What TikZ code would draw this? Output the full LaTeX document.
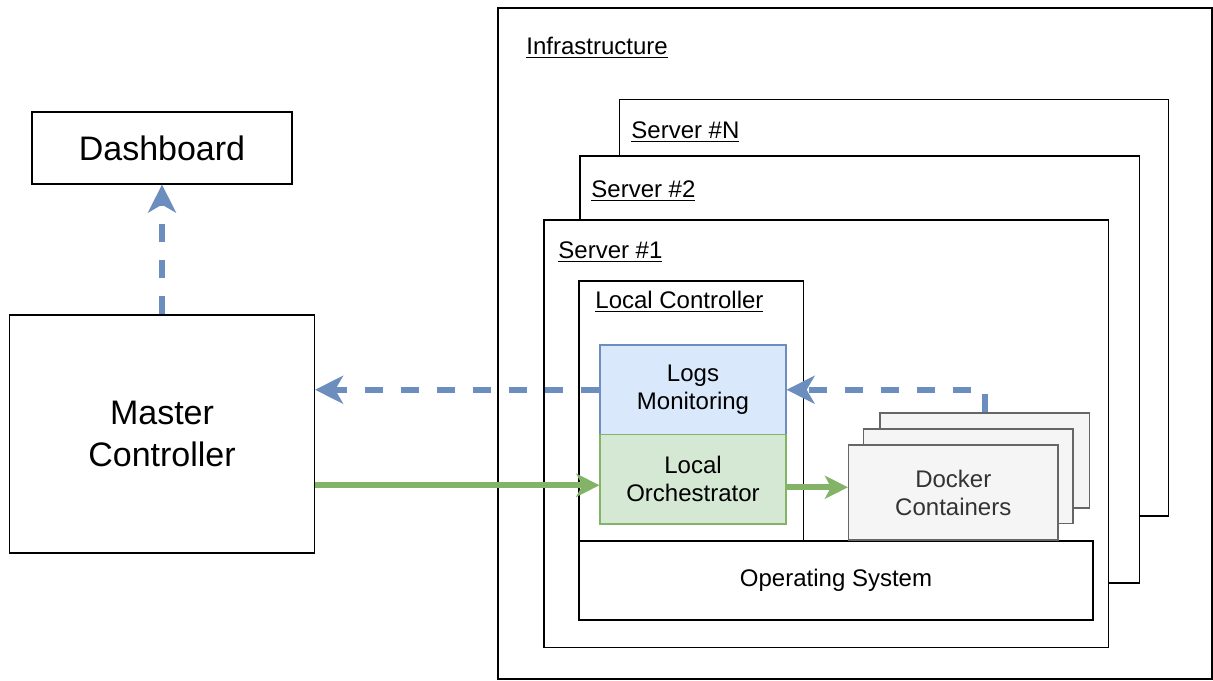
\documentclass[tikz,border=0pt]{standalone}
\usepackage{fontspec}
\setmainfont{Liberation Sans}
\usetikzlibrary{arrows.meta,positioning}
\definecolor{LogBlue}{HTML}{DAE8FC}
\definecolor{LogEdge}{HTML}{6C8EBF}
\definecolor{OrchGreen}{HTML}{D5E8D4}
\definecolor{OrchEdge}{HTML}{82B366}
\definecolor{CtrFill}{HTML}{F5F5F5}
\definecolor{CtrEdge}{HTML}{666666}
\definecolor{CtrText}{HTML}{333333}
\newcommand{\smallfont}{\fontsize{12}{14}\selectfont}
\newcommand{\bigfont}{\fontsize{17}{21}\selectfont}
\tikzset{
  spanbox/.style n args={4}{at={({(#1+#3)/2},{(#2+#4)/2})},
    minimum width={(#3-#1)*0.5pt},minimum height={(#4-#2)*0.5pt}},
  panel/.style={draw=black,line width=0.6pt,fill=white,inner sep=0pt,font=\smallfont,align=center},
  bigpanel/.style={panel,font=\bigfont},
  title/.style={anchor=west,inner sep=0pt,font=\smallfont},
  logbox/.style={panel,draw=LogEdge,fill=LogBlue},
  orchbox/.style={panel,draw=OrchEdge,fill=OrchGreen},
  ctrbox/.style={panel,draw=CtrEdge,fill=CtrFill,text=CtrText},
  bluearrow/.style={draw=LogEdge,line width=3pt,dash pattern=on 9pt off 9pt,
    -{Stealth[length=14pt,width=14pt,inset=4pt]}},
  greenarrow/.style={draw=OrchEdge,line width=3pt,
    -{Stealth[length=11.5pt,width=11.5pt,inset=3pt]}}
}

\begin{document}
\begin{tikzpicture}[x=0.5pt,y=-0.5pt]
  \useasboundingbox (0,0) rectangle (1213,680);

  \node[panel,spanbox={498}{8}{1212}{679}] (infra) {};
  \node[title] (infralbl) at (526,48) {\underline{Infrastructure}};

  \node[panel,spanbox={619.5}{99.5}{1168.5}{516}] (servern) {};
  \node[title] (servernlbl) at (631,132) {\underline{Server \#N}};
  \node[panel,spanbox={580}{156}{1139.5}{583}] (server2) {};
  \node[title] (server2lbl) at (591,191) {\underline{Server \#2}};
  \node[panel,spanbox={544}{220}{1108.5}{647.5}] (server1) {};
  \node[title] (server1lbl) at (558,252) {\underline{Server \#1}};

  \node[panel,spanbox={579}{281}{803.5}{542}] (localctl) {};
  \node[title] (localctllbl) at (595,302) {\underline{Local Controller}};
  \node[panel,spanbox={579}{541}{1093}{620}] (os) {Operating System};

  \node[logbox,spanbox={600}{345}{786}{434.5}] (logs) {Logs\\Monitoring};
  \node[orchbox,spanbox={600}{434.5}{786}{524}] (orch) {Local\\Orchestrator};

  \node[ctrbox,spanbox={880}{413}{1089.5}{508}] (dockerc) {};
  \node[ctrbox,spanbox={863.5}{429}{1073}{523.5}] (dockerb) {};
  \node[ctrbox,spanbox={848.5}{445}{1058}{540}] (dockera) {Docker\\Containers};

  \node[bigpanel,spanbox={32}{112}{292}{184}] (dash) {Dashboard};
  \node[bigpanel,spanbox={9.5}{315}{314.5}{553}] (master) {Master\\Controller};

  \draw[bluearrow] (master.north) -- (dash.south);
  \draw[bluearrow] (logs.west) -- (logs.west -| master.east);
  \draw[bluearrow] (dockerc.north) |- (logs.east);
  \draw[greenarrow] ([yshift=-3pt]orch.west -| master.east) -- ([yshift=-3pt]orch.west);
  \draw[greenarrow] ([yshift=-4pt]orch.east) -- ([yshift=-4pt]orch.east -| dockera.west);
\end{tikzpicture}
\end{document}
